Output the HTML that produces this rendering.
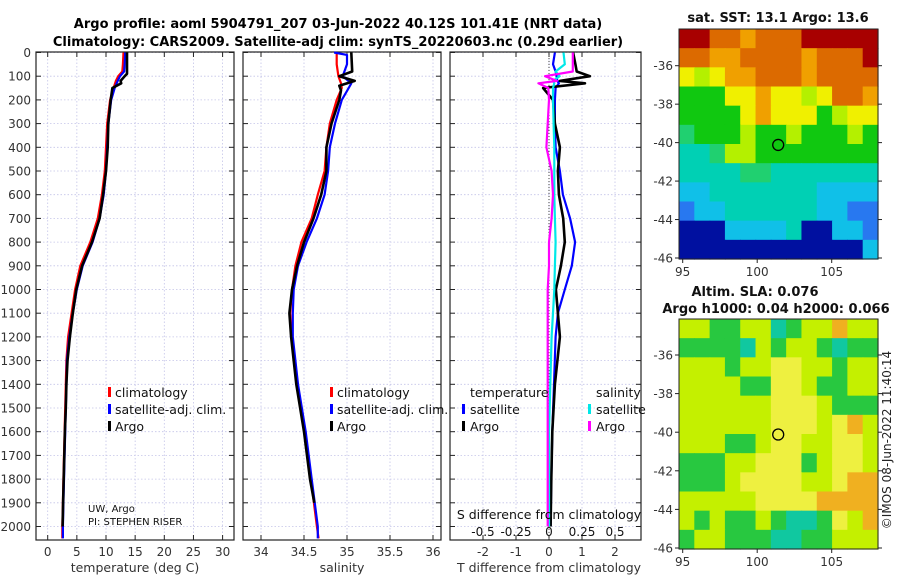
<!DOCTYPE html>
<html><head><meta charset="utf-8">
<style>
html,body{margin:0;padding:0;background:#fff;}
svg{display:block;font-family:"DejaVu Sans","Liberation Sans",sans-serif;}
</style></head>
<body>
<svg id="fig" width="900" height="580" viewBox="0 0 900 580">
<text x="338" y="28" text-anchor="middle" font-size="13" font-weight="bold">Argo profile: aoml 5904791_207 03-Jun-2022 40.12S 101.41E (NRT data)</text>
<text x="338" y="46" text-anchor="middle" font-size="13" font-weight="bold">Climatology: CARS2009. Satellite-adj clim: synTS_20220603.nc (0.29d earlier)</text>
<g id="layer"></g>
</svg>
<script>
// ---------- profile data ----------
const depthT = [0,50,80,100,120,150,200,300,400,500,600,700,800,900,1000,1100,1200,1300,1400,1500,1600,1700,1800,1900,2000,2050];
const tempClim = [13.0,12.9,12.8,12.1,11.7,11.3,10.7,10.2,10.0,9.8,9.3,8.6,7.3,5.6,4.7,4.1,3.5,3.2,3.1,3.0,2.9,2.8,2.7,2.6,2.5,2.5];
const tempSat  = [13.3,13.2,13.1,12.4,12.0,11.5,10.9,10.4,10.2,10.0,9.6,8.9,7.7,6.0,5.0,4.3,3.7,3.3,3.2,3.1,3.0,2.9,2.8,2.7,2.6,2.6];
const depthA = [0,50,90,100,120,130,150,200,300,400,500,600,700,800,900,1000,1100,1200,1300,1400,1500,1600,1700,1800,1900,2000];
const tempArgo = [13.6,13.6,13.6,13.2,12.5,12.6,11.1,10.8,10.4,10.3,10.0,9.5,8.9,7.6,5.9,4.9,4.3,3.8,3.4,3.2,3.1,2.95,2.85,2.75,2.65,2.55];
const depthS = [0,10,50,100,130,150,200,300,400,500,600,700,800,900,1000,1100,1200,1400,1600,1800,2000,2050];
const salClim = [34.88,34.88,34.88,34.9,34.93,34.94,34.88,34.80,34.76,34.74,34.66,34.59,34.47,34.40,34.36,34.34,34.36,34.42,34.51,34.58,34.65,34.67];
const salSat  = [34.85,35.0,35.0,34.95,35.05,35.02,34.94,34.86,34.80,34.78,34.74,34.65,34.53,34.43,34.38,34.37,34.37,34.43,34.52,34.59,34.66,34.66];
const depthSA = [0,80,100,120,140,160,200,300,400,500,600,700,800,900,1000,1100,1200,1400,1600,1800,1900];
const salArgo = [35.05,35.06,34.91,35.09,34.91,34.93,34.91,34.82,34.76,34.76,34.70,34.61,34.50,34.42,34.36,34.33,34.35,34.41,34.50,34.57,34.62];
const depthD = [0,50,80,100,120,130,150,200,300,400,500,600,700,800,900,1000,1100,1200,1400,1600,1800,2000];
const tDiffSat  = [0.18,0.12,0.2,0.23,0.25,0.3,0.2,0.18,0.18,0.2,0.33,0.42,0.64,0.79,0.69,0.48,0.27,0.2,0.15,0.1,0.07,0.05];
const tDiffArgo = [0.73,0.8,0.84,1.24,0.33,1.09,-0.18,0.12,0.18,0.33,0.27,0.3,0.43,0.48,0.36,0.21,0.27,0.33,0.18,0.1,0.07,0.05];
const sDiffSat  = [0.11,0.12,0.05,0.08,0.03,0.04,0.03,0.03,0.035,0.04,0.04,0.04,0.045,0.05,0.045,0.04,0.03,0.02,0.01,0.0,0.0,0.0];
const sDiffArgo = [0.18,0.18,0.18,-0.03,0.06,-0.08,-0.005,0.0,-0.01,-0.02,0.02,0.03,0.02,0.0,0.0,-0.01,-0.01,-0.01,-0.01,-0.01,-0.01,-0.01];
const depthTicks = [0,100,200,300,400,500,600,700,800,900,1000,1100,1200,1300,1400,1500,1600,1700,1800,1900,2000];
const tempTicks = [0,5,10,15,20,25,30];
const salTicks = [34,34.5,35,35.5,36];
const salTickLabels = ["34","34.5","35","35.5","36"];
const diffTicks = [-2,-1,0,1,2];
const sDiffTicks = [-0.5,-0.25,0,0.25,0.5];
const sDiffLabels = ["-0.5","-0.25","0","0.25","0.5"];
const lonTicks = [95,100,105];
const latTicks = [-36,-38,-40,-42,-44,-46];
// SST map colour codes (rows north->south)
const sstRows = [
"RROOoOOORRRRR",
"OOooOOOOoOOOR",
"YyYooOOOoOOOO",
"GGGYYoYYyYOOo",
"GGGGYoYYYGyYY",
"gGGGyGGyGGGyG",
"CCgyyGGGGGGGG",
"CCCCggCCCCCCC",
"ccCCCCCCCcccc",
"BccCCCCCCccBB",
"NNNccccCNNccB",
"NNNNNNNNNNNNc"];
const slaRows = [
"yyGGyyTGyyOyy",
"GGGGTyGyyGTGG",
"yyyGyyYYyyGyy",
"yyyyGGYYyGGyy",
"yyyyyyYYYyGGG",
"yyyyyyYYYyYOy",
"yyyGGyYYyyYYy",
"GGGyyYYYGyYYy",
"GGGyYYYYyyYOO",
"yyyyyYYYYOOOO",
"yGyGGyGTTGYyO",
"GyyGGGTTGGyyy"];
const floatLon = 101.41, floatLat = -40.12;

const NS="http://www.w3.org/2000/svg";
const layer=document.getElementById('layer');
function mk(tag,attrs,parent){const e=document.createElementNS(NS,tag);for(const k in attrs)e.setAttribute(k,attrs[k]);(parent||layer).appendChild(e);return e;}

const yTop=52.5, pxPer100=23.7, boxTop=52, boxBot=540;
function yD(d){return yTop+d*pxPer100/100;}

function panel(name,x0,x1,xs,ticks,labels,showY){
  const g=mk('g',{});
  
  
  ticks.forEach(t=>{const l=mk('line',{x1:xs(t),x2:xs(t),y1:boxTop,y2:boxBot,stroke:'#c4c4e8','stroke-width':0.8,'stroke-dasharray':'1.5,2'},g);});
  depthTicks.forEach(d=>{const l=mk('line',{x1:x0,x2:x1,y1:yD(d),y2:yD(d),stroke:'#c4c4e8','stroke-width':0.8,'stroke-dasharray':'1.5,2'},g);});
  depthTicks.forEach(d=>{mk('line',{x1:x0,x2:x0+5,y1:yD(d),y2:yD(d),stroke:'#222'},g);mk('line',{x1:x1-5,x2:x1,y1:yD(d),y2:yD(d),stroke:'#222'},g);
    if(showY){const t=mk('text',{x:x0-5,y:yD(d)+4.5,'text-anchor':'end','font-size':12,fill:'#333'},g);t.textContent=d;}});
  ticks.forEach((v,i)=>{mk('line',{x1:xs(v),x2:xs(v),y1:boxBot-5,y2:boxBot,stroke:'#222'},g);mk('line',{x1:xs(v),x2:xs(v),y1:boxTop,y2:boxTop+5,stroke:'#222'},g);
    if(labels){const t=mk('text',{x:xs(v),y:556,'text-anchor':'middle','font-size':12,fill:'#333'},g);t.textContent=labels[i];}});
  const r=mk('rect',{x:x0,y:boxTop,width:x1-x0,height:boxBot-boxTop,fill:'none',stroke:'#222','stroke-width':1.2},g);
  
  return g;
}
function line(g,xs,vals,depths,color,w,name){
  const pts=vals.map((v,i)=>xs(v).toFixed(1)+','+yD(depths[i]).toFixed(1)).join(' ');
  const p=mk('polyline',{points:pts,fill:'none',stroke:color,'stroke-width':w,'stroke-linejoin':'round'},g);
  
}
function txt(g,x,y,s,size,name,anchor,extra){const t=mk('text',Object.assign({x:x,y:y,'font-size':size,'text-anchor':anchor||'start',fill:'#111'},extra||{}),g);t.textContent=s;return t;}
function legBar(g,x,y,color,name){const r=mk('rect',{x:x,y:y-10,width:3,height:10,fill:color},g);}

// Panel 1: temperature
const xT=v=>47.7+v*5.83;
const g1=panel('temperature',36,234,xT,tempTicks,tempTicks.map(String),true);
line(g1,xT,tempClim,depthT,'#ff0000',2.2,'temp-climatology-line');
line(g1,xT,tempSat,depthT,'#0000ff',2.2,'temp-satellite-line');
line(g1,xT,tempArgo,depthA,'#000000',2.6,'temp-argo-line');
legBar(g1,108,397,'#ff0000','legend-climatology-marker');txt(g1,115,397,'climatology',12.5,'legend-climatology');
legBar(g1,108,414,'#0000ff','legend-satellite-marker');txt(g1,115,414,'satellite-adj. clim.',12.5,'legend-satellite');
legBar(g1,108,431,'#000000','legend-argo-marker');txt(g1,115,431,'Argo',12.5,'legend-argo');
txt(g1,88,512,'UW, Argo',10,'institution-label');
txt(g1,88,525,'PI: STEPHEN RISER',10,'pi-label');
txt(g1,135,572,'temperature (deg C)',12.5,'temperature-axis-title','middle',{fill:'#333'});

// Panel 2: salinity
const xS=v=>261+(v-34)*86;
const g2=panel('salinity',243,441,xS,salTicks,salTickLabels,false);
line(g2,xS,salClim,depthS,'#ff0000',2.2,'sal-climatology-line');
line(g2,xS,salSat,depthS,'#0000ff',2.2,'sal-satellite-line');
line(g2,xS,salArgo,depthSA,'#000000',2.6,'sal-argo-line');
legBar(g2,330,397,'#ff0000','legend2-climatology-marker');txt(g2,337,397,'climatology',12.5,'legend2-climatology');
legBar(g2,330,414,'#0000ff','legend2-satellite-marker');txt(g2,337,414,'satellite-adj. clim.',12.5,'legend2-satellite');
legBar(g2,330,431,'#000000','legend2-argo-marker');txt(g2,337,431,'Argo',12.5,'legend2-argo');
txt(g2,342,572,'salinity',12.5,'salinity-axis-title','middle',{fill:'#333'});

// Panel 3: differences
const xD=v=>549+v*33;
const xSD=v=>549+v*132;
const g3=panel('difference',450,641,xD,diffTicks,diffTicks.map(String),false);
const zl=mk('line',{x1:549,x2:549,y1:boxTop,y2:boxBot,stroke:'#444','stroke-width':1,'stroke-dasharray':'1,2'},g3);

line(g3,xD,tDiffSat,depthD,'#0000ff',2.2,'tdiff-satellite-line');
line(g3,xD,tDiffArgo,depthD,'#000000',2.6,'tdiff-argo-line');
line(g3,xSD,sDiffSat,depthD,'#00e8e8',2.2,'sdiff-satellite-line');
line(g3,xSD,sDiffArgo,depthD,'#ff00ff',2.2,'sdiff-argo-line');
txt(g3,470,397,'temperature',12.5,'legend-temperature-heading');
legBar(g3,462,414,'#0000ff','legend-tsat-marker');txt(g3,470,414,'satellite',12.5,'legend-tsat');
legBar(g3,462,431,'#000000','legend-targo-marker');txt(g3,470,431,'Argo',12.5,'legend-targo');
txt(g3,596,397,'salinity',12.5,'legend-salinity-heading');
legBar(g3,588,414,'#00e8e8','legend-ssat-marker');txt(g3,596,414,'satellite',12.5,'legend-ssat');
legBar(g3,588,431,'#ff00ff','legend-sargo-marker');txt(g3,596,431,'Argo',12.5,'legend-sargo');
txt(g3,549,519,'S difference from climatology',12.5,'s-diff-axis-title','middle');
sDiffTicks.forEach((v,i)=>txt(g3,xSD(v),536,sDiffLabels[i],12,'s-diff-tick-label','middle'));
txt(g3,549,572,'T difference from climatology',12.5,'t-diff-axis-title','middle',{fill:'#333'});

// ---------- maps ----------
const sstCol={R:'#a80000',O:'#dc6a00',o:'#f0a000',Y:'#f0f000',y:'#b4f000',G:'#10c810',g:'#20d070',C:'#00d0b4',c:'#10c0e8',B:'#2878f0',N:'#0010a0'};
const slaCol={y:'#c4f000',Y:'#eef040',G:'#28c840',T:'#10c8a0',O:'#f0b020'};
function map(name,x0,x1,y0,y1,lat36,lat46,rows,cols,titleLines){
  const g=mk('g',{});
  const lonX=v=>682.7+(v-95)*14.9;
  const latY=v=>lat36+(-36-v)*(lat46-lat36)/10;
  const nr=rows.length,nc=rows[0].length,cw=(x1-x0)/nc,ch=(y1-y0)/nr;
  rows.forEach((r,i)=>{for(let j=0;j<nc;j++){const c=mk('rect',{x:(x0+j*cw).toFixed(2),y:(y0+i*ch).toFixed(2),width:(cw+0.6).toFixed(2),height:(ch+0.6).toFixed(2),fill:cols[r[j]]},g);}});
  const b=mk('rect',{x:x0,y:y0,width:x1-x0,height:y1-y0,fill:'none',stroke:'#222','stroke-width':1},g);
  latTicks.forEach(v=>{mk('line',{x1:x0-4,x2:x0,y1:latY(v),y2:latY(v),stroke:'#222'},g);mk('line',{x1:x1,x2:x1+4,y1:latY(v),y2:latY(v),stroke:'#222'},g);txt(g,x0-6,latY(v)+4.5,String(v),12,'lat-tick-label','end',{fill:'#333'});});
  lonTicks.forEach(v=>{mk('line',{x1:lonX(v),x2:lonX(v),y1:y1,y2:y1+4,stroke:'#222'},g);txt(g,lonX(v),y1+17,String(v),12,'lon-tick-label','middle',{fill:'#333'});});
  const m=mk('circle',{cx:lonX(floatLon),cy:latY(floatLat),r:5.5,fill:'none',stroke:'#000','stroke-width':1.3},g);
  titleLines.forEach(t=>txt(g,t[0],t[1],t[2],13,name+'-title','middle',{'font-weight':'bold'}));
}
map('sst-map',679,878,29,259,65.7,258,sstRows,sstCol,[[778,22,'sat. SST: 13.1 Argo: 13.6']]);
map('sla-map',679,878,319,549,355,548,slaRows,slaCol,[[755,296,'Altim. SLA: 0.076'],[776,313,'Argo h1000: 0.04 h2000: 0.066']]);
txt(layer,891,440,'©IMOS 08-Jun-2022 11:40:14',12,'timestamp-credit','middle',{transform:'rotate(-90 891 440)',fill:'#222'});
</script>
</body></html>
